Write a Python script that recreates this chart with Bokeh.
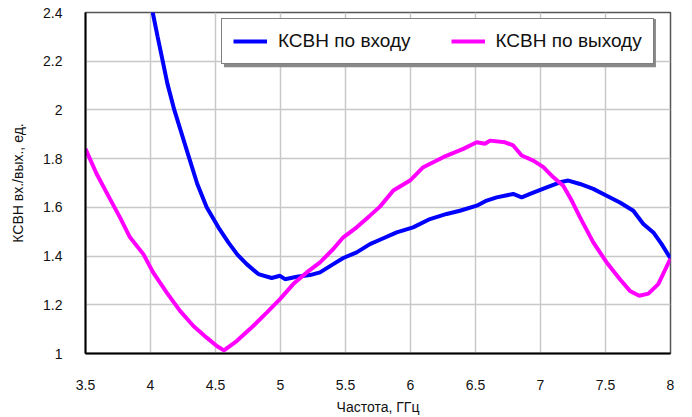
from bokeh.plotting import figure
from bokeh.models import Range1d, FixedTicker, Legend, LegendItem, BoxAnnotation
from bokeh.embed import file_html
from bokeh.resources import INLINE

# ---- data ----
freq_in = [3.995, 4.017, 4.055, 4.094, 4.13, 4.183, 4.24, 4.299, 4.36, 4.432, 4.522, 4.60,
           4.67, 4.74, 4.83, 4.932, 4.996, 5.035, 5.125, 5.227, 5.304, 5.406, 5.483, 5.586,
           5.688, 5.765, 5.894, 6.02, 6.15, 6.278, 6.38, 6.51, 6.586, 6.663, 6.79, 6.855, 6.92,
           7.048, 7.15, 7.214, 7.304, 7.406, 7.509, 7.611, 7.714, 7.791, 7.868, 7.932, 8.0]
vswr_in = [2.45, 2.40, 2.30, 2.20, 2.108, 2.0, 1.902, 1.80, 1.696, 1.60, 1.518, 1.455,
           1.405, 1.367, 1.326, 1.31, 1.319, 1.305, 1.315, 1.322, 1.333, 1.367, 1.392, 1.415,
           1.449, 1.467, 1.497, 1.518, 1.552, 1.573, 1.586, 1.607, 1.628, 1.641, 1.655, 1.641,
           1.655, 1.682, 1.703, 1.71, 1.696, 1.676, 1.648, 1.62, 1.586, 1.532, 1.497, 1.449, 1.39]

freq_out = [3.5, 3.586, 3.688, 3.765, 3.842, 3.945, 4.02, 4.125, 4.227, 4.33, 4.432, 4.51,
            4.565, 4.663, 4.79, 4.894, 4.996, 5.098, 5.202, 5.304, 5.406, 5.483, 5.586, 5.688,
            5.765, 5.868, 5.996, 6.098, 6.252, 6.406, 6.509, 6.573, 6.612, 6.727, 6.79, 6.855,
            6.945, 7.022, 7.086, 7.175, 7.24, 7.304, 7.406, 7.509, 7.611, 7.688, 7.76, 7.83,
            7.906, 8.0]
vswr_out = [1.84, 1.737, 1.635, 1.559, 1.477, 1.408, 1.333, 1.25, 1.175, 1.113, 1.065, 1.031,
            1.013, 1.051, 1.113, 1.168, 1.223, 1.285, 1.333, 1.374, 1.429, 1.477, 1.518, 1.566,
            1.603, 1.669, 1.71, 1.765, 1.806, 1.84, 1.867, 1.861, 1.874, 1.867, 1.854, 1.813,
            1.792, 1.765, 1.73, 1.689, 1.628, 1.559, 1.456, 1.374, 1.305, 1.257, 1.237, 1.246,
            1.285, 1.39]

x_ticks = [3.5, 4.0, 4.5, 5.0, 5.5, 6.0, 6.5, 7.0, 7.5, 8.0]
x_tick_labels = ["3.5", "4", "4.5", "5", "5.5", "6", "6.5", "7", "7.5", "8"]
y_ticks = [1.0, 1.2, 1.4, 1.6, 1.8, 2.0, 2.2, 2.4]
y_tick_labels = ["1", "1.2", "1.4", "1.6", "1.8", "2", "2.2", "2.4"]

series_names = ["КСВН по входу", "КСВН по выходу"]
x_title = "Частота, ГГц"
y_title = "КСВН вх./вых., ед."

FONT = "Liberation Sans"

p = figure(width=692, height=417, output_backend="svg", toolbar_location=None,
           x_range=Range1d(3.5, 8.0), y_range=Range1d(1.0, 2.4),
           min_border_left=85, min_border_right=22, min_border_top=12, min_border_bottom=64)
p.background_fill_color = "white"
p.border_fill_color = "white"
p.outline_line_color = "#555555"
p.outline_line_width = 1.5

p.xaxis.ticker = FixedTicker(ticks=x_ticks)
p.yaxis.ticker = FixedTicker(ticks=y_ticks)
p.xaxis.major_label_overrides = dict(zip(x_ticks, x_tick_labels))
p.yaxis.major_label_overrides = dict(zip(y_ticks, y_tick_labels))

for ax in (p.xaxis[0], p.yaxis[0]):
    ax.axis_line_color = "black"
    ax.axis_line_width = 2
    ax.major_tick_line_color = None
    ax.minor_tick_line_color = None
    ax.major_label_text_font = FONT
    ax.major_label_text_font_size = "14px"
    ax.major_label_text_color = "#111111"
    ax.axis_label_text_font = FONT
    ax.axis_label_text_font_size = "14px"
    ax.axis_label_text_font_style = "normal"
    ax.axis_label_text_color = "#111111"

p.xaxis.axis_label = x_title
p.yaxis.axis_label = y_title
p.xaxis.major_label_standoff = 20
p.yaxis.major_label_standoff = 17
p.xaxis.axis_label_standoff = 6
p.yaxis.axis_label_standoff = 14

p.grid.grid_line_color = "#c8c8c8"
p.grid.grid_line_width = 1.5

r_in = p.line(freq_in, vswr_in, line_color="#0000FF", line_width=4)
r_out = p.line(freq_out, vswr_out, line_color="#FF00FF", line_width=4)

# legend shadow
shadow = BoxAnnotation(left=4.565, right=7.888, bottom=2.175, top=2.373,
                       fill_color="#888888", fill_alpha=1.0, line_color=None)
p.add_layout(shadow)

legend = Legend(items=[LegendItem(label=series_names[0], renderers=[r_in]),
                       LegendItem(label=series_names[1], renderers=[r_out])],
                orientation="horizontal", location=(136, 289),
                label_text_font=FONT, label_text_font_size="19px", label_text_color="#111111",
                glyph_width=34, glyph_height=22, label_standoff=11, spacing=40,
                padding=11, margin=0, border_line_color="black", border_line_width=1.5,
                background_fill_color="white", background_fill_alpha=1.0)
p.add_layout(legend)

open("out.html", "w").write(file_html(p, INLINE))
